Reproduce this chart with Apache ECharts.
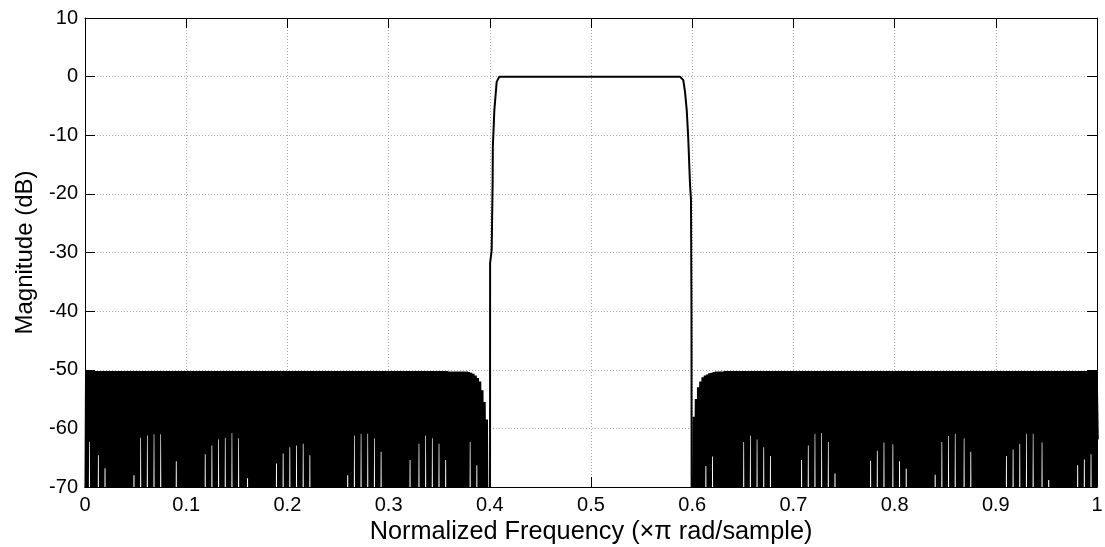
<!DOCTYPE html>
<html>
<head>
<meta charset="utf-8">
<script src="https://cdn.jsdelivr.net/npm/echarts@6/dist/echarts.min.js"></script>
<style>
html,body{margin:0;padding:0;background:#fff;}
#chart{width:1105px;height:547px;}
</style>
</head>
<body>
<div id="chart"></div>
<script>
// ---- tick labels ----
const xTickLabels = ['0','0.1','0.2','0.3','0.4','0.5','0.6','0.7','0.8','0.9','1'];
const yTickLabels = ['-70','-60','-50','-40','-30','-20','-10','0','10'];

// ---- stopband ripple sample grid (normalized frequency) ----
const leftStopStart = 0;
const rightStopStart = 0.6003;
const rippleStep = 0.0022;

// left stopband: lobe minima (dB, values below -70 are off-scale) and lobe maxima
const leftTroughDb = [
 -90,-90,-62.3,-90,-90,-90,-64.6,-90,-90,-66.8,
 -90,-90,-90,-90,-90,-90,-90,-90,-90,-90,
 -90,-90,-68,-90,-90,-61.6,-90,-90,-61.2,-90,
 -90,-61,-90,-90,-61,-90,-90,-90,-90,-90,
 -90,-65.6,-90,-90,-90,-90,-90,-90,-90,-90,
 -90,-90,-90,-90,-64.4,-90,-90,-62.9,-90,-90,
 -61.9,-90,-90,-61.6,-90,-90,-60.8,-90,-90,-61.7,
 -90,-90,-90,-68.5,-90,-90,-90,-90,-90,-90,
 -90,-90,-90,-90,-90,-90,-66,-90,-90,-64.3,
 -90,-90,-63.2,-90,-90,-62.9,-90,-90,-62.6,-90,
 -90,-64.6,-90,-90,-90,-90,-90,-90,-90,-90,
 -90,-90,-90,-90,-90,-90,-90,-90,-68,-90,
 -90,-61.2,-90,-90,-60.9,-90,-90,-60.9,-90,-90,
 -61.7,-90,-90,-64,-90,-90,-90,-90,-90,-90,
 -90,-90,-90,-90,-90,-90,-65.4,-90,-90,-90,
 -62.6,-90,-90,-61.2,-90,-90,-61.7,-90,-90,-62.6,
 -90,-90,-65.4,-90,-90,-90,-90,-90,-90,-90,
 -90,-90,-90,-62.3,-90,-90,-66.3,-90,-90,-90,
 -90,-90
];
const leftPeakDb = [
 -50.2,-50.2,-50.2,-50.2,-50.2,-50.2,-50.2,-50.2,-50.2,-50.2,
 -50.2,-50.2,-50.2,-50.2,-50.2,-50.2,-50.2,-50.2,-50.2,-50.2,
 -50.2,-50.2,-50.2,-50.2,-50.2,-50.2,-50.2,-50.2,-50.2,-50.2,
 -50.2,-50.2,-50.2,-50.2,-50.2,-50.2,-50.2,-50.2,-50.2,-50.2,
 -50.2,-50.2,-50.2,-50.2,-50.2,-50.2,-50.2,-50.2,-50.2,-50.2,
 -50.2,-50.2,-50.2,-50.2,-50.2,-50.2,-50.2,-50.2,-50.2,-50.2,
 -50.2,-50.2,-50.2,-50.2,-50.2,-50.2,-50.2,-50.2,-50.2,-50.2,
 -50.2,-50.2,-50.2,-50.2,-50.2,-50.2,-50.2,-50.2,-50.2,-50.2,
 -50.2,-50.2,-50.2,-50.2,-50.2,-50.2,-50.2,-50.2,-50.2,-50.2,
 -50.2,-50.2,-50.2,-50.2,-50.2,-50.2,-50.2,-50.2,-50.2,-50.2,
 -50.2,-50.2,-50.2,-50.2,-50.2,-50.2,-50.2,-50.2,-50.2,-50.2,
 -50.2,-50.2,-50.2,-50.2,-50.2,-50.2,-50.2,-50.2,-50.2,-50.2,
 -50.2,-50.2,-50.2,-50.2,-50.2,-50.2,-50.2,-50.2,-50.2,-50.2,
 -50.2,-50.2,-50.2,-50.2,-50.2,-50.2,-50.2,-50.2,-50.2,-50.2,
 -50.2,-50.2,-50.2,-50.2,-50.2,-50.2,-50.2,-50.2,-50.2,-50.2,
 -50.2,-50.2,-50.2,-50.2,-50.2,-50.2,-50.2,-50.2,-50.2,-50.2,
 -50.2,-50.2,-50.2,-50.3,-50.3,-50.3,-50.3,-50.3,-50.3,-50.3,
 -50.3,-50.3,-50.4,-50.5,-50.7,-51.0,-51.4,-52.0,-53.5,-55.5,
 -58.5
];

// right stopband
const rightTroughDb = [
 -90,-90,-90,-90,-90,-90,-66.4,-90,-90,-64.8,
 -90,-90,-90,-90,-90,-90,-90,-90,-90,-90,
 -90,-90,-90,-62.3,-90,-90,-61.2,-90,-90,-61.9,
 -90,-90,-63.2,-90,-90,-64.7,-90,-90,-90,-90,
 -90,-90,-90,-90,-90,-90,-90,-90,-90,-65.4,
 -90,-90,-62.9,-90,-90,-60.9,-90,-90,-60.8,-90,
 -90,-62.3,-90,-90,-67.7,-90,-90,-90,-90,-90,
 -90,-90,-90,-90,-90,-90,-90,-90,-90,-90,
 -65.5,-90,-90,-63.8,-90,-90,-62.4,-90,-90,-90,
 -62.7,-90,-90,-65.6,-90,-90,-66.9,-90,-90,-90,
 -90,-90,-90,-90,-90,-90,-90,-90,-90,-67.9,
 -90,-90,-62.3,-90,-90,-61.3,-90,-90,-60.9,-90,
 -90,-90,-61.7,-90,-90,-64,-90,-90,-90,-90,
 -90,-90,-90,-90,-90,-90,-90,-90,-90,-90,
 -90,-64.7,-90,-90,-63.6,-90,-90,-62.6,-90,-90,
 -60.9,-90,-90,-60.9,-90,-90,-90,-62.4,-90,-90,
 -68.8,-90,-90,-90,-90,-90,-90,-90,-90,-90,
 -90,-90,-90,-66.3,-90,-90,-65.3,-90,-90,-64.4,
 -90,-90,-61.9
];
const rightPeakDb = [
 -58,-55,-53,-52,-51.3,-51.0,-50.8,-50.6,-50.5,-50.4,
 -50.3,-50.3,-50.3,-50.3,-50.2,-50.2,-50.2,-50.2,-50.2,-50.2,
 -50.2,-50.2,-50.2,-50.2,-50.2,-50.2,-50.2,-50.2,-50.2,-50.2,
 -50.2,-50.2,-50.2,-50.2,-50.2,-50.2,-50.2,-50.2,-50.2,-50.2,
 -50.2,-50.2,-50.2,-50.2,-50.2,-50.2,-50.2,-50.2,-50.2,-50.2,
 -50.2,-50.2,-50.2,-50.2,-50.2,-50.2,-50.2,-50.2,-50.2,-50.2,
 -50.2,-50.2,-50.2,-50.2,-50.2,-50.2,-50.2,-50.2,-50.2,-50.2,
 -50.2,-50.2,-50.2,-50.2,-50.2,-50.2,-50.2,-50.2,-50.2,-50.2,
 -50.2,-50.2,-50.2,-50.2,-50.2,-50.2,-50.2,-50.2,-50.2,-50.2,
 -50.2,-50.2,-50.2,-50.2,-50.2,-50.2,-50.2,-50.2,-50.2,-50.2,
 -50.2,-50.2,-50.2,-50.2,-50.2,-50.2,-50.2,-50.2,-50.2,-50.2,
 -50.2,-50.2,-50.2,-50.2,-50.2,-50.2,-50.2,-50.2,-50.2,-50.2,
 -50.2,-50.2,-50.2,-50.2,-50.2,-50.2,-50.2,-50.2,-50.2,-50.2,
 -50.2,-50.2,-50.2,-50.2,-50.2,-50.2,-50.2,-50.2,-50.2,-50.2,
 -50.2,-50.2,-50.2,-50.2,-50.2,-50.2,-50.2,-50.2,-50.2,-50.2,
 -50.2,-50.2,-50.2,-50.2,-50.2,-50.2,-50.2,-50.2,-50.2,-50.2,
 -50.2,-50.2,-50.2,-50.2,-50.2,-50.2,-50.2,-50.2,-50.2,-50.2,
 -50.2,-50.2,-50.2,-50.2,-50.2,-50.2,-50.2,-50.2,-50.2,-50.2,
 -50.2,-50.2
];

// passband and transition bands
const passFreq = [0.4002,0.4003,0.40185,0.4028,0.4030,0.4045,0.4068,0.4094,0.45,0.5,0.55,0.5879,0.5912,0.5929,0.5946,0.5961,0.5978,0.5988,0.5993,0.5995];
const passDb   = [-90,-31.8,-29.6,-18,-12,-5.7,-0.9,0,0,0,0,0,-0.6,-2.6,-5.7,-10.5,-18.2,-21,-40,-90];

function buildRipple(start, step, troughs, peaks) {
  const pts = [];
  for (let k = 0; k < troughs.length; k++) {
    pts.push([start + k * step, troughs[k]]);
    if (k < peaks.length) pts.push([start + (k + 0.5) * step, peaks[k]]);
  }
  return pts;
}
const leftStop = buildRipple(leftStopStart, rippleStep, leftTroughDb, leftPeakDb);
const rightStop = buildRipple(rightStopStart, rippleStep, rightTroughDb, rightPeakDb);
const passBand = passFreq.map((f, i) => [f, passDb[i]]);

const FONT = 'Liberation Sans, Arial, Helvetica, sans-serif';
const chart = echarts.init(document.getElementById('chart'), null, {renderer: 'canvas'});

const gridLine = {show: true, lineStyle: {color: '#a8a8a8', width: 1, type: [1, 2]}};
const boxLine = {show: true, onZero: false, lineStyle: {color: '#000', width: 1}};
const tickIn = {show: true, inside: true, length: 10, lineStyle: {color: '#000', width: 1}};

chart.setOption({
  animation: false,
  backgroundColor: '#fff',
  grid: {left: 85, right: 8, top: 18, bottom: 60, containLabel: false, outerBoundsMode: 'none'},
  xAxis: [
    {
      type: 'value', min: 0, max: 1, interval: 0.1, position: 'bottom',
      axisLine: boxLine, axisTick: tickIn, splitLine: gridLine,
      axisLabel: {color: '#000', fontFamily: FONT, fontSize: 20, margin: 8,
        formatter: v => xTickLabels[Math.round(v * 10)]},
      name: 'Normalized Frequency (\u00d7\u03c0 rad/sample)',
      nameLocation: 'middle', nameGap: 33,
      nameTextStyle: {color: '#000', fontFamily: FONT, fontSize: 25.3}
    },
    {
      type: 'value', min: 0, max: 1, interval: 0.1, position: 'top',
      axisLine: boxLine, axisTick: tickIn, splitLine: {show: false},
      axisLabel: {show: false}
    }
  ],
  yAxis: [
    {
      type: 'value', min: -70, max: 10, interval: 10, position: 'left',
      axisLine: boxLine, axisTick: tickIn, splitLine: gridLine,
      axisLabel: {color: '#000', fontFamily: FONT, fontSize: 20, margin: 7,
        formatter: v => yTickLabels[Math.round((v + 70) / 10)]},
      name: 'Magnitude (dB)', nameLocation: 'middle', nameGap: 48,
      nameTextStyle: {color: '#000', fontFamily: FONT, fontSize: 24}
    },
    {
      type: 'value', min: -70, max: 10, interval: 10, position: 'right',
      axisLine: boxLine, axisTick: tickIn, splitLine: {show: false},
      axisLabel: {show: false}
    }
  ],
  series: [
    {type: 'line', data: leftStop, showSymbol: false, clip: true, silent: true,
      lineStyle: {color: '#000', width: 2.2}, z: 3},
    {type: 'line', data: passBand, showSymbol: false, clip: true, silent: true,
      lineStyle: {color: '#000', width: 2}, z: 3},
    {type: 'line', data: rightStop, showSymbol: false, clip: true, silent: true,
      lineStyle: {color: '#000', width: 2.2}, z: 3}
  ]
});
</script>
</body>
</html>
